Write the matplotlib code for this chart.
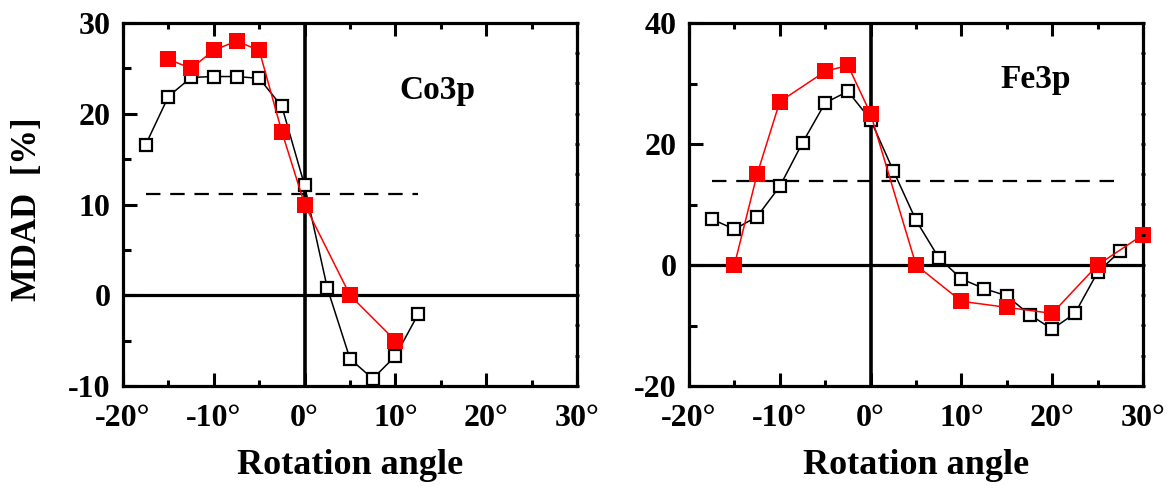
import matplotlib.pyplot as plt
from matplotlib.ticker import MultipleLocator, FixedLocator

plt.rcParams["font.family"] = ["Liberation Serif", "DejaVu Serif"]
plt.rcParams["font.weight"] = "bold"
plt.rcParams["axes.unicode_minus"] = False

# Co3p panel
co_open_x = [-17.5, -15, -12.5, -10, -7.5, -5, -2.5, 0, 2.5, 5, 7.5, 10, 12.5]
co_open_y = [16.6, 21.9, 24.0, 24.1, 24.1, 23.9, 20.8, 12.1, 0.8, -7.0, -9.2, -6.7, -2.1]
co_fill_x = [-15, -12.5, -10, -7.5, -5, -2.5, 0, 5, 10]
co_fill_y = [26.0, 25.0, 27.0, 28.0, 27.0, 18.0, 10.0, 0.0, -5.0]
co_mean = 11.2
co_mean_x = [-17.5, 12.5]

# Fe3p panel
fe_open_x = [-17.5, -15, -12.5, -10, -7.5, -5, -2.5, 0, 2.5, 5, 7.5, 10, 12.5,
             15, 17.5, 20, 22.5, 25, 27.5]
fe_open_y = [7.6, 5.9, 8.0, 13.0, 20.2, 26.8, 28.7, 24.0, 15.6, 7.4, 1.2, -2.3, -3.9,
             -5.1, -8.2, -10.6, -8.0, -1.2, 2.3]
fe_fill_x = [-15, -12.5, -10, -5, -2.5, 0, 5, 10, 15, 20, 25, 30]
fe_fill_y = [0.0, 15.0, 27.0, 32.0, 33.0, 25.0, 0.0, -6.0, -7.0, -8.0, 0.0, 5.0]
fe_mean = 13.9
fe_mean_x = [-17.5, 27.5]

x_ticks = [-20, -10, 0, 10, 20, 30]
x_labels = ["-20\u00b0", "-10\u00b0", "0\u00b0", "10\u00b0", "20\u00b0", "30\u00b0"]

W, H = 1175, 492
fig = plt.figure(figsize=(W / 100, H / 100), dpi=100)


def px_rect(x0, y_top, w, h):
    return [x0 / W, 1 - (y_top + h) / H, w / W, h / H]


ax1 = fig.add_axes(px_rect(123, 23, 454, 363))
ax2 = fig.add_axes(px_rect(689, 23, 454, 363))


def style_axes(ax, ylim, ymajor, yminor, tick_fs=23):
    ax.set_xlim(-20, 30)
    ax.set_ylim(*ylim)
    for sp in ax.spines.values():
        sp.set_linewidth(2.3)
    ax.axhline(0, color="k", lw=2.3, zorder=1)
    ax.axvline(0, color="k", lw=2.6, zorder=1)
    ax.xaxis.set_major_locator(FixedLocator(x_ticks))
    ax.set_xticklabels(x_labels)
    ax.xaxis.set_minor_locator(MultipleLocator(5))
    ax.yaxis.set_major_locator(MultipleLocator(ymajor))
    ax.yaxis.set_minor_locator(MultipleLocator(yminor))
    ax.tick_params(axis="x", which="both", direction="in", top=True, bottom=True,
                   width=2.2, labelsize=tick_fs, pad=13)
    ax.tick_params(axis="x", which="major", length=9.5)
    ax.tick_params(axis="x", which="minor", length=4.5)
    ax.tick_params(axis="y", which="both", direction="in", left=True, right=False,
                   width=2.2, labelsize=tick_fs, pad=9)
    ax.tick_params(axis="y", which="major", length=10)
    ax.tick_params(axis="y", which="minor", length=5.5)


def draw_series(ax, ox, oy, fx, fy, mean_x, mean_y):
    ax.plot(mean_x, [mean_y, mean_y], color="k", lw=1.6,
            linestyle=(0, (6.5, 4.4)), zorder=2)
    ax.plot(ox, oy, color="k", lw=1.1, marker="s", ms=9, mfc="white",
            mec="k", mew=1.6, zorder=3, clip_on=False)
    ax.plot(fx, fy, color="red", lw=1.1, marker="s", ms=11, mfc="red",
            mec="red", mew=0, zorder=4, clip_on=False)


def right_ticks(ax):
    # the right spine has its own finer tick spacing
    tw = ax.twinx()
    tw.set_ylim(-20, 40)
    tw.yaxis.set_major_locator(MultipleLocator(5))
    tw.tick_params(axis="y", direction="inout", length=3, width=2, labelright=False)
    for sp in tw.spines.values():
        sp.set_visible(False)


style_axes(ax1, (-10, 30), 10, 5)
draw_series(ax1, co_open_x, co_open_y, co_fill_x, co_fill_y, co_mean_x, co_mean)
ax1.text(14.6, 22.6, "Co3p", fontsize=24, ha="center", va="center")
right_ticks(ax1)

style_axes(ax2, (-20, 40), 20, 10)
draw_series(ax2, fe_open_x, fe_open_y, fe_fill_x, fe_fill_y, fe_mean_x, fe_mean)
ax2.text(18.2, 30.6, "Fe3p", fontsize=24, ha="center", va="center")
right_ticks(ax2)

fig.text(350 / W, 1 - 466 / H, "Rotation angle", fontsize=26, ha="center", va="center")
fig.text(916 / W, 1 - 466 / H, "Rotation angle", fontsize=26, ha="center", va="center")
fig.text(28 / W, 1 - 209 / H, "MDAD  [%]", fontsize=25, rotation=90,
         ha="center", va="center")

fig.savefig("out.png", dpi=100)
